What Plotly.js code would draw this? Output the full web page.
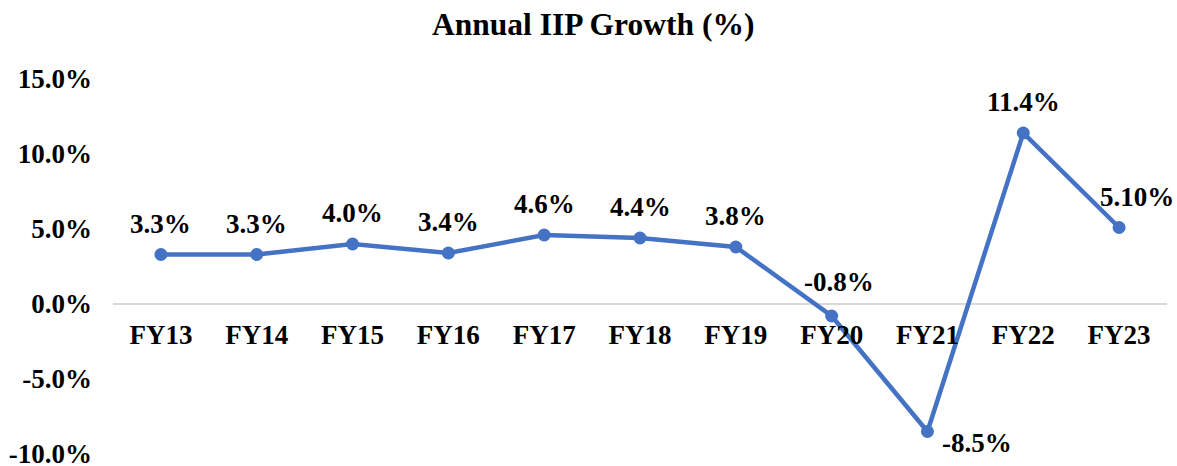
<!DOCTYPE html>
<html>
<head>
<meta charset="utf-8">
<script src="https://cdn.plot.ly/plotly-3.0.1.min.js"></script>
<style>html,body{margin:0;padding:0;background:#fff;}#chart{width:1177px;height:466px;}</style>
</head>
<body>
<div id="chart"></div>
<script>
// Data
const categories = ["FY13","FY14","FY15","FY16","FY17","FY18","FY19","FY20","FY21","FY22","FY23"];
const growth = [3.3, 3.3, 4.0, 3.4, 4.6, 4.4, 3.8, -0.8, -8.5, 11.4, 5.1];
const labels = ["3.3%","3.3%","4.0%","3.4%","4.6%","4.4%","3.8%","-0.8%","-8.5%","11.4%","5.10%"];
const yTickVals = [-10, -5, 0, 5, 10, 15];
const yTickText = ["-10.0%","-5.0%","0.0%","5.0%","10.0%","15.0%"];

// Label placement (pixel offsets from each point)
const labelXShift = [0,0,0,0,0,0,0,7,50,0,18];
const labelYShift = [31,31,31,31,31,31,31,34,-11,31,31];

const FONT = "Liberation Serif, Times New Roman, serif";
const yMin = -10, yMax = 15;

const annotations = categories.map((c, i) => ({
  x: c, y: growth[i], xref: 'x', yref: 'y',
  text: labels[i], showarrow: false,
  xanchor: 'center', yanchor: 'middle',
  xshift: labelXShift[i], yshift: labelYShift[i],
  font: {family: FONT, size: 27, color: '#000', weight: 'bold'}
}));

const trace = {
  x: categories, y: growth, type: 'scatter', mode: 'lines+markers',
  line: {color: '#4472C4', width: 4.5},
  marker: {color: '#4472C4', size: 13},
  hoverinfo: 'skip'
};

const layout = {
  width: 1177, height: 466,
  margin: {l: 113, r: 10, t: 79, b: 12},
  paper_bgcolor: '#fff', plot_bgcolor: '#fff',
  showlegend: false,
  title: {
    text: 'Annual IIP Growth (%)',
    font: {family: FONT, size: 31.5, color: '#000', weight: 'bold'},
    x: 0.504, xanchor: 'center', xref: 'container',
    y: 0.948, yanchor: 'middle', yref: 'container'
  },
  xaxis: {
    type: 'category', range: [-0.5, categories.length - 0.5],
    anchor: 'free', position: (0 - yMin) / (yMax - yMin),
    showgrid: false, zeroline: false, showline: false,
    ticks: '', ticklabelstandoff: 12,
    tickfont: {family: FONT, size: 27, color: '#000', weight: 'bold'}
  },
  yaxis: {
    range: [yMin, yMax], tickvals: yTickVals, ticktext: yTickText,
    showgrid: false, zeroline: true, zerolinecolor: '#d9d9d9', zerolinewidth: 2,
    showline: false, ticks: '', ticklabelstandoff: 20, ticklabeloverflow: 'allow',
    tickfont: {family: FONT, size: 27, color: '#000', weight: 'bold'}
  },
  annotations: annotations
};

Plotly.newPlot('chart', [trace], layout, {displayModeBar: false, staticPlot: true});
</script>
</body>
</html>
